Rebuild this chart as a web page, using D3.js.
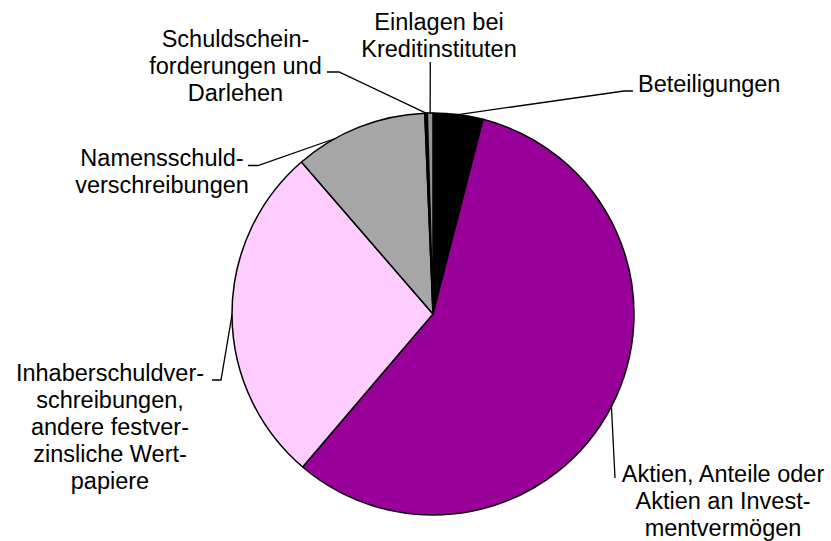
<!DOCTYPE html>
<html>
<head>
<meta charset="utf-8">
<script src="https://cdn.jsdelivr.net/npm/d3@7"></script>
<style>
  html, body { margin: 0; padding: 0; background: #fff; }
  text { font-family: "Liberation Sans", Arial, sans-serif; font-size: 23.5px; fill: #000; }
</style>
</head>
<body>
<div id="chart"></div>
<script>
// Kapitalanlagen, Anteile in %
var categories = [
  "Beteiligungen",
  "Aktien, Anteile oder Aktien an Investmentvermögen",
  "Inhaberschuldverschreibungen, andere festverzinsliche Wertpapiere",
  "Namensschuldverschreibungen",
  "Schuldscheinforderungen und Darlehen",
  "Einlagen bei Kreditinstituten"
];
var values = [4.0, 57.2, 27.4, 10.7, 0.2, 0.45];
var colors = ["#000000", "#990099", "#FFCCFF", "#A6A6A6", "#000000", "#969696"];

// label lines as printed (with hyphenation)
var labelLines = [
  ["Beteiligungen"],
  ["Aktien, Anteile oder", "Aktien an Invest-", "mentvermögen"],
  ["Inhaberschuldver-", "schreibungen,", "andere festver-", "zinsliche Wert-", "papiere"],
  ["Namensschuld-", "verschreibungen"],
  ["Schuldschein-", "forderungen und", "Darlehen"],
  ["Einlagen bei", "Kreditinstituten"]
];

// layout of labels: text x, first baseline, anchor, leader elbow, leader end, position in slice
var labelLayout = [
  { x: 638, y: 91.5, anchor: "start",  elbow: [624, 91], end: [633, 91], frac: 0.5 },
  { x: 723, y: 482,  anchor: "middle", elbow: null,      end: [615, 478], frac: 0.5 },
  { x: 110, y: 381,  anchor: "middle", elbow: [221, 380], end: [212, 380], frac: 0.5 },
  { x: 162, y: 166,  anchor: "middle", elbow: [258, 165.5], end: [248, 165.5], frac: 0.3 },
  { x: 235.5, y: 46.5, anchor: "middle", elbow: [339, 72], end: [327, 72], frac: 0.5 },
  { x: 439, y: 29.5, anchor: "middle", elbow: null,      end: [430.3, 62], frac: 0.5 }
];

var width = 831, height = 541;
var cx = 433, cy = 314, radius = 201;
var lineHeight = 27;

var svg = d3.select("#chart")
  .append("svg")
  .attr("width", width)
  .attr("height", height);

var pie = d3.pie().sort(null).value(function(d) { return d; });
var arcs = pie(values);

var arc = d3.arc().innerRadius(0).outerRadius(radius);

var g = svg.append("g")
  .attr("transform", "translate(" + cx + "," + cy + ")");

g.selectAll("path.slice")
  .data(arcs)
  .enter().append("path")
  .attr("class", "slice")
  .attr("d", arc)
  .style("fill", function(d, i) { return colors[i]; })
  .style("stroke", "#000")
  .style("stroke-width", 1.5)
  .style("stroke-linejoin", "round");

// leader lines
function arcPoint(a) {
  return [cx + radius * Math.sin(a), cy - radius * Math.cos(a)];
}

var line = d3.line();
svg.selectAll("path.leader")
  .data(arcs)
  .enter().append("path")
  .attr("class", "leader")
  .attr("d", function(d, i) {
    var l = labelLayout[i];
    var a = d.startAngle + (d.endAngle - d.startAngle) * l.frac;
    var pts = [arcPoint(a)];
    if (l.elbow) pts.push(l.elbow);
    pts.push(l.end);
    return line(pts);
  })
  .style("fill", "none")
  .style("stroke", "#000")
  .style("stroke-width", 1.3);

// labels
var labels = svg.selectAll("text.label")
  .data(labelLines)
  .enter().append("text")
  .attr("class", "label")
  .attr("text-anchor", function(d, i) { return labelLayout[i].anchor; });

labels.each(function(lines, i) {
  var l = labelLayout[i];
  d3.select(this).selectAll("tspan")
    .data(lines)
    .enter().append("tspan")
    .attr("x", l.x)
    .attr("y", function(t, j) { return l.y + j * lineHeight; })
    .text(function(t) { return t; });
});
</script>
</body>
</html>
